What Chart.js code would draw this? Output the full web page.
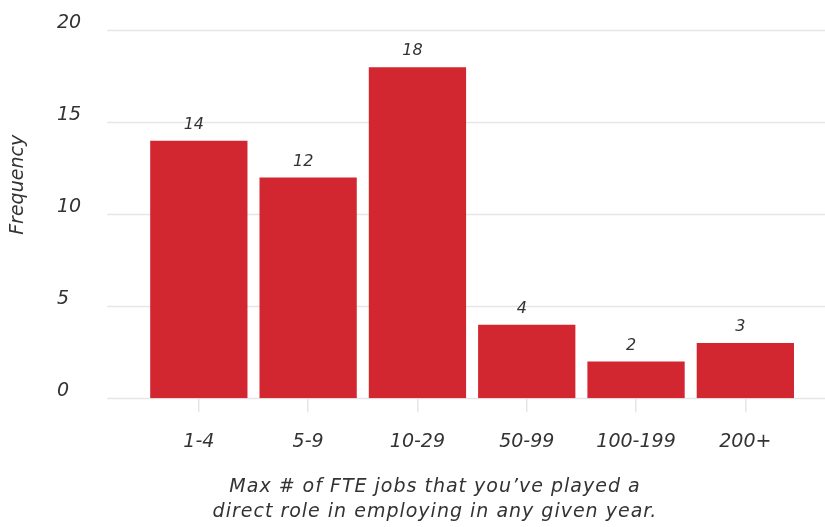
<!DOCTYPE html>
<html>
<head>
<meta charset="utf-8">
<script src="https://cdn.jsdelivr.net/npm/chart.js@4.4.0/dist/chart.umd.min.js"></script>
<style>
  html, body { margin: 0; padding: 0; background: #fff; }
  #wrap { width: 825px; height: 527px; }
</style>
</head>
<body>
<div id="wrap"><canvas id="freqChart"></canvas></div>
<script>
// Data
const categories = ["1-4", "5-9", "10-29", "50-99", "100-199", "200+"];
const frequency = [14, 12, 18, 4, 2, 3];
const yTicks = [0, 5, 10, 15, 20];
const xTitle = ["Max # of FTE jobs that you\u2019ve played a", "direct role in employing in any given year."];
const yTitle = "Frequency";

const textColor = "#333333";
const gridColor = "#e6e6e6";
const barColor = "#d22630";
const fontFamily = "'DejaVu Sans', sans-serif";

// Horizontal gridlines run a bit past the plot area on both sides
const wideGrid = {
    id: "wideGrid",
    beforeDatasetsDraw(chart) {
        const { ctx, chartArea, scales } = chart;
        ctx.save();
        ctx.strokeStyle = gridColor;
        ctx.lineWidth = 1.5;
        scales.y.ticks.forEach(t => {
            const y = Math.round(scales.y.getPixelForValue(t.value)) + 0.5;
            ctx.beginPath();
            ctx.moveTo(chartArea.left - 37, y);
            ctx.lineTo(chart.width, y);
            ctx.stroke();
        });
        ctx.restore();
    }
};

// Value labels above the bars, plus the two axis titles
const barLabels = {
    id: "barLabels",
    afterDatasetsDraw(chart) {
        const { ctx, chartArea } = chart;
        const meta = chart.getDatasetMeta(0);
        ctx.save();
        ctx.fillStyle = textColor;
        ctx.font = "italic 16px " + fontFamily;
        ctx.textAlign = "center";
        ctx.textBaseline = "bottom";
        meta.data.forEach((bar, i) => {
            ctx.fillText(String(frequency[i]), bar.x - 5, bar.y - 8);
        });

        // x title, sits left of the plot centre like the original
        ctx.font = "italic 19px " + fontFamily;
        ctx.textBaseline = "middle";
        if ("letterSpacing" in ctx) ctx.letterSpacing = "1px";
        xTitle.forEach((line, i) => {
            ctx.fillText(line, 435, chartArea.bottom + 89 + i * 25);
        });
        ctx.letterSpacing = "0px";

        // y title
        ctx.translate(18, chartArea.top + (chartArea.bottom - chartArea.top) * 0.42);
        ctx.rotate(-Math.PI / 2);
        ctx.fillText(yTitle, 0, 0);
        ctx.restore();
    }
};

const ctx = document.getElementById("freqChart").getContext("2d");
new Chart(ctx, {
    type: "bar",
    data: {
        labels: categories,
        datasets: [{
            data: frequency,
            backgroundColor: barColor,
            barPercentage: 0.89,
            categoryPercentage: 1.0
        }]
    },
    options: {
        responsive: true,
        maintainAspectRatio: false,
        animation: false,
        layout: { padding: { top: 0, right: 25, left: 57, bottom: 56 } },
        plugins: {
            legend: { display: false },
            tooltip: { enabled: false }
        },
        scales: {
            x: {
                grid: {
                    display: true,
                    offset: false,
                    drawOnChartArea: false,
                    drawTicks: true,
                    tickLength: 14,
                    color: gridColor,
                    lineWidth: 1.5
                },
                border: { display: false },
                ticks: {
                    color: textColor,
                    padding: 18,
                    font: { family: fontFamily, size: 19, style: "italic" }
                }
            },
            y: {
                min: 0,
                max: 20,
                afterBuildTicks(scale) {
                    scale.ticks = yTicks.map(v => ({ value: v }));
                },
                grid: { display: false },
                border: { display: false },
                ticks: {
                    color: textColor,
                    crossAlign: "far",
                    padding: 27.5,
                    labelOffset: -7,
                    font: { family: fontFamily, size: 19, style: "italic", lineHeight: 0.3 }
                }
            }
        }
    },
    plugins: [wideGrid, barLabels]
});
</script>
</body>
</html>
